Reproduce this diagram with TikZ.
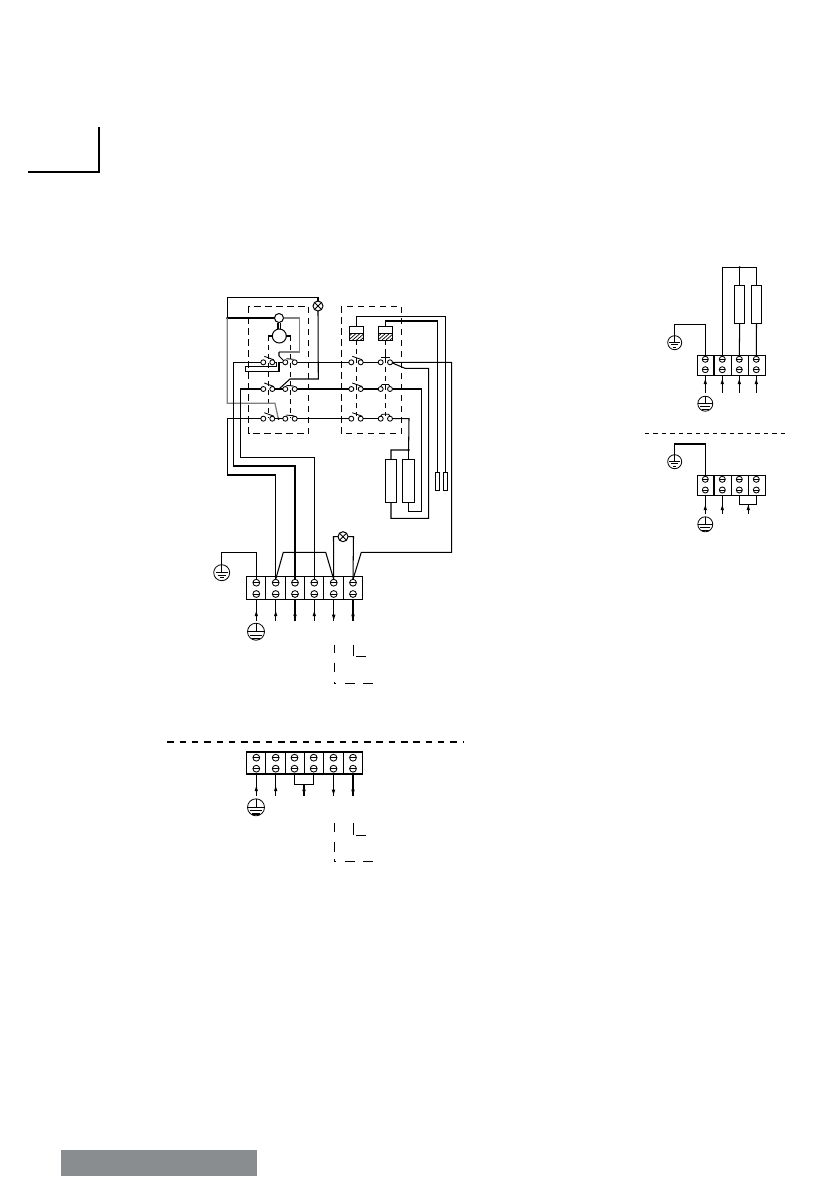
\documentclass[tikz,border=0pt]{standalone}
\usetikzlibrary{calc}
\definecolor{bargrey}{HTML}{8A8D8F}
\definecolor{wiregrey}{HTML}{808080}
\tikzset{
  x=1pt,y=-1pt,
  wire/.style={line width=1.05pt,line join=miter},
  greywire/.style={line width=1.25pt,draw=wiregrey},
  boxdash/.style={line width=0.95pt,dash pattern=on 6.5pt off 4.5pt},
  linkdash/.style={line width=0.9pt,dash pattern=on 5pt off 4pt},
  bigdash/.style={line width=1.7pt,dash pattern=on 6.5pt off 5.8pt},
  sepdash/.style={line width=0.85pt,dash pattern=on 4.6pt off 3.9pt},
  part/.style={draw,line width=1pt,fill=white,inner sep=0pt,outer sep=0pt},
  lampnode/.style={part,circle,minimum size=10pt},
  heaterone/.style={part,rectangle,minimum width=11.5pt,minimum height=43pt},
  heatertwo/.style={part,rectangle,minimum width=10pt,minimum height=38pt},
  sensor/.style={part,rectangle,minimum width=4.6pt,minimum height=18pt},
  contactpt/.style={part,circle,minimum size=5pt,line width=0.85pt},
  gnode/.style={part,circle,line width=0.8pt},
}
\newcommand{\dglamp}[3]{%
  \node[lampnode] (#1) at (#2,#3) {};
  \draw[line width=0.85pt] ($(#1)+(-3.5,-3.5)$) -- ($(#1)+(3.5,3.5)$) ($(#1)+(-3.5,3.5)$) -- ($(#1)+(3.5,-3.5)$);}
\newcommand{\dgearth}[4]{%
  \node[gnode,minimum size=#4*2pt] (#1) at (#2,#3) {};
  \draw[line width=0.8pt] (#1.north) -- (#1.center)
    ($(#1)+(-#4*0.75,0)$) -- ($(#1)+(#4*0.75,0)$)
    ($(#1)+(-#4*0.5,#4*0.3)$) -- ($(#1)+(#4*0.5,#4*0.3)$)
    ($(#1)+(-#4*0.25,#4*0.6)$) -- ($(#1)+(#4*0.25,#4*0.6)$);}
\newcommand{\dgpe}[4]{%
  \node[gnode,minimum size=#4*2pt] (#1) at (#2,#3) {};
  \draw[line width=0.9pt] (#1.north) -- (#1.center) (#1.west) -- (#1.east)
    ($(#1)+(-#4*0.65,#4*0.42)$) -- ($(#1)+(#4*0.65,#4*0.42)$);
  \draw[line width=1.2pt] ($(#1)+(-#4*0.45,#4*0.78)$) -- ($(#1)+(#4*0.45,#4*0.78)$);}
\newcommand{\dgscrew}[4]{%
  \node[part,circle,minimum size=#4*2pt,line width=0.85pt] (#1) at (#2,#3) {};
  \draw[line width=0.85pt] (#1.west) -- (#1.east);}
\newcommand{\dguptip}[2]{\fill ({#1},{#2-3}) -- ({#1-1.7},{#2+2}) -- ({#1+1.7},{#2+2}) -- cycle;}
\newcommand{\dgdowntip}[2]{\fill ({#1},{#2+3}) -- ({#1-1.8},{#2-2.5}) -- ({#1+1.8},{#2-2.5}) -- cycle;}
\newcommand{\dgpair}[4]{%
  \node[contactpt] (#1a) at (#2,#4) {};
  \node[contactpt] (#1b) at (#3,#4) {};}
\newcommand{\dgslant}[3]{\draw[line width=0.85pt] ({#1+1},{#3-6}) -- ({#2+1.5},{#3-2.5});}
\newcommand{\dgflat}[3]{\draw[line width=0.85pt] ({#1+1},{#3-3.6}) -- ({#2-1},{#3-3});}
\newcommand{\dgbridge}[3]{\draw[line width=0.85pt] (#1,{#3-2.5}) -- ({#1+1.5},{#3-4.5}) -- ({#2-1.5},{#3-4.5}) -- (#2,{#3-2.5});}
\newcommand{\dgrelay}[3]{%
  \node[part,rectangle,minimum width=14pt,minimum height=13.6pt] (#1) at (#2,#3) {};
  \draw[line width=0.85pt] (#1.west) -- (#1.east);
  \begin{scope}
    \clip (#1.west) rectangle (#1.south east);
    \foreach \d in {-8,-4,0,4,8}{\draw[line width=0.7pt] ($(#1.south)+(\d-4,0)$) -- ($(#1.south)+(\d+4,-7)$);}
  \end{scope}}
\begin{document}
\begin{tikzpicture}
\useasboundingbox (0,0) rectangle (840,1192);
\fill[white] (0,0) rectangle (840,1192);

% corner mark and footer bar
\coordinate (cornerA) at (28,172);
\coordinate (cornerB) at (99,172);
\coordinate (cornerC) at (99,127);
\draw[line width=1.6pt] (cornerA) -- (cornerB) -- (cornerC);
\fill[bargrey] (61,1150) rectangle (257,1175.7);

% dashed boxes and mechanical links
\draw[boxdash] (248.7,306.3) rectangle (308.7,433.7);
\draw[boxdash] (341.3,306.3) rectangle (401.3,433.7);
\draw[linkdash] (268.3,336) -- (268.3,418);
\draw[linkdash] (290.3,336) -- (290.3,418);
\draw[linkdash] (356.7,340) -- (356.7,416);
\draw[linkdash] (385.7,340) -- (385.7,416);

% motor
\node[part,circle,minimum size=9pt] (aux) at (279,318) {};
\node[part,circle,minimum size=14pt] (motor) at (279.3,336) {};
\draw[wire] (278,322.5) -- (278,329.2) (280.8,322.5) -- (280.8,329.2);
\draw[wire] (268,336) -- (motor.west) (motor.east) -- (290.7,336);

% lamp and feed
\dglamp{lampA}{318}{306}
\coordinate (feedTL) at (227.3,297.3);
\coordinate (feedDot) at (227.3,318);
\coordinate (feedBL) at (227.3,403.3);
\draw[wire] (lampA.north) |- (feedTL) -- (feedDot) -- (aux.west);
\fill (feedDot) circle (1.3pt);
\draw[greywire] (feedDot) -- (feedBL) -- (275,403.3) -- (278.3,418.7);
\draw[greywire] (aux.east) -- (299.3,318) -- (299.3,352) -- (279,352);

% terminal block, main
\draw[wire] (246.3,576.7) rectangle (362.7,599.3);
\foreach \x in {265.7,285.7,304.7,323.7,343.3}{\draw[wire] (\x,576.7) -- (\x,599.3);}
\foreach \n/\x in {1/256.3,2/275.7,3/295,4/314.3,5/333.7,6/353}{
  \dgscrew{mt\n}{\x}{582.7}{3.4}
  \dgscrew{mb\n}{\x}{594}{3.4}
  \coordinate (mo\n) at (\x,620.7);
}
\foreach \n/\x in {1/256.3,2/275.7,3/295,4/314.3}{\draw[wire] (\x,599.3) -- (mo\n); \dguptip{\x}{614}}
\foreach \n/\x in {5/333.7,6/353}{\draw[wire] (\x,599.3) -- (mo\n); \dgdowntip{\x}{617}}
\dgearth{gA}{221.7}{572.7}{8}
\dgpe{pA}{256}{631.7}{8.5}
\dglamp{lampB}{343}{536.7}

% relays, heaters, sensors
\dgrelay{relA}{356.3}{333.5}
\dgrelay{relB}{385.7}{333.5}
\node[heaterone] (heatA) at (391,480.8) {};
\node[heaterone] (heatB) at (408.6,480.8) {};
\node[sensor] (senA) at (437.3,481.3) {};
\node[sensor] (senB) at (445.6,481.3) {};

% contacts
\dgpair{la}{263.3}{272.3}{362.3}
\dgpair{lb}{285.3}{294.7}{362.3}
\dgpair{lc}{263.3}{272.3}{389}
\dgpair{ld}{285.3}{294.7}{389}
\dgpair{le}{263.3}{272.3}{418.7}
\dgpair{lf}{285.3}{294.7}{418.7}
\dgpair{ra}{351.3}{360.7}{362.3}
\dgpair{rb}{380.7}{390}{362.3}
\dgpair{rc}{351.3}{360.7}{389}
\dgpair{rd}{380.7}{390}{389}
\dgpair{re}{351.3}{360.7}{418.7}
\dgpair{rf}{380.7}{390}{418.7}
\dgslant{263.3}{272.3}{362.3}
\dgslant{263.3}{272.3}{389}
\dgslant{263.3}{272.3}{418.7}
\dgslant{351.3}{360.7}{362.3}
\dgslant{351.3}{360.7}{389}
\dgslant{351.3}{360.7}{418.7}
\dgflat{285.3}{294.7}{362.3}
\dgflat{285.3}{294.7}{389}
\dgflat{285.3}{294.7}{418.7}
\draw[line width=0.85pt] (380.7,357.5) -- (390,357.5);
\dgbridge{380.7}{390}{389}
\dgbridge{380.7}{390}{418.7}
\draw[line width=0.85pt] (385.5,357.5) -- (385.5,353);

% wiring within the rows
\draw[wire] (279,352) -- (279,356) -- (lba.north west);
\draw[wire] (lab.east) -- (276.7,362.3) -- (276.7,366.7) -- (245.3,366.7) -- (245.3,371.7) -- (279,371.7) -- (279,362.3) -- (lba.west);
\draw[wire] (lcb.east) -- (lda.west);
\draw[wire] (279,389) -- (290,379) -- (318.3,379) -- (lampA.south);
\fill (279,389) circle (1.2pt);
\draw[wire] (leb.east) -- (lfa.west);
\fill (278.6,418.7) circle (1.2pt);
\draw[wire] (lbb.east) -- (raa.west);
\draw[wire] (ldb.east) -- (rca.west);
\draw[wire] (lfb.east) -- (rea.west);
\draw[wire] (rab.east) -- (rba.west);
\draw[wire] (rcb.east) -- (rda.west);
\draw[wire] (reb.east) -- (rfa.west);

% wiring to the terminals
\draw[wire] (laa.west) -- (233.7,362.3) -- (233.7,466) -| (mt3.north);
\draw[wire] (lca.west) -- (240.3,389) -- (240.3,457.3) -| (mt4.north);
\draw[wire] (lea.west) -- (227.3,418.7) -- (227.3,475) -| (mt2.north);
\draw[wire] (rbb.east) -- (451.7,362.3) -- (451.7,552.3) -- (361.3,552.3) -- (mt6.north);
\draw[wire] (392.3,363) -- (405,368.3) -- (428.7,368.3) -- (428.7,518.3) -| (heatA.south);
\draw[wire] (rdb.east) -- (421.7,389) -- (421.7,511.3) -| (heatB.south);
\coordinate (heatDot) at (408.6,450);
\draw[wire] (rfb.east) -- (409,418.7) -- (heatDot) -- (391,450) -- (heatA.north);
\draw[wire] (heatDot) -- (heatB.north);
\fill (heatDot) circle (1.2pt);
\draw[wire] (senA.north) -- (437.3,321) -| (relB.north);
\draw[wire] (senB.north) -- (445.6,316.7) -| (relA.north);
\draw[wire] (mt1.north) -- (256.3,552.3) -- (221.7,552.3) -- (gA.north);
\draw[wire] (mt2.north) -- (283.3,552.3) -- (325.7,552.3) -- (mt5.north);
\draw[wire] (lampB.west) -- (333.5,536.7) -- (mt5.north);
\draw[wire] (lampB.east) -- (353.5,536.7) -- (mt6.north);

% outgoing dashes, main
\draw[line width=0.95pt] (334.3,644.7) -- (334.3,653.3) (334.3,662.7) -- (334.3,672.3) (334.3,682) -- (334.3,683.8)
  (334.3,683.3) -- (336,683.3) (345.3,683.3) -- (355,683.3) (363.3,683.3) -- (372.7,683.3)
  (353.7,644.7) -- (353.7,656) (356,656) -- (365.7,656);

% separator and lower block
\draw[bigdash] (167.3,741.7) -- (463.3,741.7);
\draw[wire] (246.3,752) rectangle (362.7,774);
\foreach \x in {265.7,285.7,304.7,323.7,343.3}{\draw[wire] (\x,752) -- (\x,774);}
\foreach \n/\x in {1/256.3,2/275.7,3/294.5,4/313.7,5/333.5,6/353}{
  \dgscrew{nt\n}{\x}{757.7}{3.4}
  \dgscrew{nb\n}{\x}{768.7}{3.4}
  \coordinate (no\n) at (\x,796);
}
\coordinate (njL) at (294.5,784.3);
\coordinate (njR) at (313.7,784.3);
\coordinate (njM) at (304,784.3);
\coordinate (njO) at (304,796);
\draw[wire] (294.5,774) -- (njL) -- (njR) -- (313.7,774) (njM) -- (njO);
\dguptip{304}{789}
\draw[wire] (256.3,774) -- (no1); \dguptip{256.3}{789}
\draw[wire] (275.7,774) -- (no2); \dguptip{275.7}{789}
\draw[wire] (333.5,774) -- (no5); \dgdowntip{333.5}{792}
\draw[wire] (353,774) -- (no6); \dgdowntip{353}{792}
\dgpe{pB}{256}{807.3}{8.5}
\draw[line width=0.95pt] (334,823.3) -- (334,831.7) (334,841.7) -- (334,851.7) (334,859) -- (334,861.5)
  (334,861) -- (336,861) (345,861) -- (355,861) (363.3,861) -- (372.7,861)
  (353.3,823.3) -- (353.3,835) (356,835) -- (365.7,835);

% right upper block
\draw[wire] (697.3,355.3) rectangle (765.7,375.3);
\foreach \x in {714,731.3,748.3}{\draw[wire] (\x,355.3) -- (\x,375.3);}
\foreach \n/\x in {1/705.3,2/722.3,3/739.3,4/756.3}{
  \dgscrew{pt\n}{\x}{359.3}{3}
  \dgscrew{pb\n}{\x}{369.7}{3}
  \coordinate (po\n) at (\x,393.3);
  \draw[wire] (\x,375.3) -- (po\n);
  \dguptip{\x}{382}
}
\dgearth{gC}{674.7}{342.7}{7}
\dgpe{pC}{705.3}{403.7}{7.5}
\node[heatertwo] (heatC) at (739.7,304.3) {};
\node[heatertwo] (heatD) at (756.5,304.3) {};
\coordinate (topDot) at (739.7,267.3);
\draw[wire] (pt1.north) -- (705.3,324.3) -- (674.7,324.3) -- (gC.north);
\draw[wire] (pt2.north) -- (722.3,267.3) -- (756.5,267.3) -- (heatD.north);
\draw[wire] (topDot) -- (heatC.north);
\fill (topDot) circle (1.1pt);
\draw[wire] (heatC.south) -- (pt3.north);
\draw[wire] (heatD.south) -- (pt4.north);

\draw[sepdash] (644.7,433.3) -- (785.3,433.3);

% right lower block
\draw[wire] (697.3,475.3) rectangle (765.7,495.3);
\foreach \x in {714,731.3,748.3}{\draw[wire] (\x,475.3) -- (\x,495.3);}
\foreach \n/\x in {1/705.3,2/722.3,3/739.3,4/756.3}{
  \dgscrew{qt\n}{\x}{479.3}{3}
  \dgscrew{qb\n}{\x}{490}{3}
}
\coordinate (qo1) at (705.3,514);
\coordinate (qo2) at (722.3,514);
\coordinate (qjL) at (739.3,504.3);
\coordinate (qjR) at (756.3,504.3);
\coordinate (qjM) at (748.3,504.3);
\coordinate (qjO) at (748.3,514);
\draw[wire] (705.3,495.3) -- (qo1); \dguptip{705.3}{508}
\draw[wire] (722.3,495.3) -- (qo2); \dguptip{722.3}{508}
\draw[wire] (739.3,495.3) -- (qjL) -- (qjR) -- (756.3,495.3) (qjM) -- (qjO);
\dguptip{748.3}{508}
\dgearth{gD}{674.7}{461.7}{7}
\dgpe{pD}{705.3}{524.3}{7.5}
\draw[wire] (qt1.north) -- (705.3,444) -- (674.7,444) -- (gD.north);
\end{tikzpicture}
\end{document}
